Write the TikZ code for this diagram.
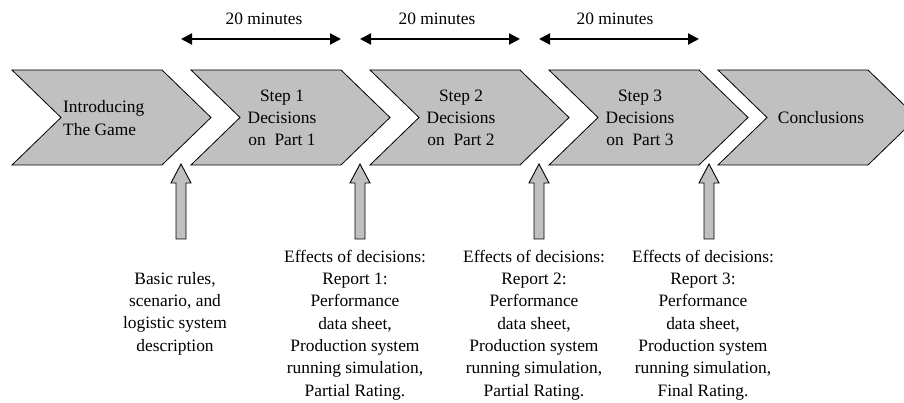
\documentclass[tikz,border=0pt]{standalone}
\usepackage{fontspec}
\setmainfont{Liberation Serif}
\usetikzlibrary{arrows.meta}
\definecolor{chevgray}{RGB}{192,192,192}

\begin{document}
\begin{tikzpicture}[x=1pt, y=-1pt,
    chevron/.style={draw=black, fill=chevgray, line width=0.8pt, line join=miter},
    chevtext/.style={font=\fontsize{17.4}{22.3}\selectfont, align=center, inner sep=0pt},
    note/.style={font=\fontsize{17.4}{22.3}\selectfont, align=center, inner sep=0pt},
    span/.style={line width=2pt, {Triangle[length=11pt,width=11pt]}-{Triangle[length=11pt,width=11pt]}}
]
\useasboundingbox (0,0) rectangle (904,403);
\clip (0,0) rectangle (904,403);

% Chevrons of the session
\foreach \x in {12,191,370,549,718} {
  \draw[chevron] (\x,70) -- ++(150,0) -- ++(49,47.5) -- ++(-49,47.5) -- ++(-150,0) -- ++(49,-47.5) -- cycle;
}

% Texts inside the chevrons
\node[chevtext, anchor=west, align=left] (intro) at (63,118) {Introducing\\The Game};
\node[chevtext] (step1) at (282,118) {Step 1\\Decisions\\on~~Part 1};
\node[chevtext] (step2) at (461,118) {Step 2\\Decisions\\on~~Part 2};
\node[chevtext] (step3) at (640,118) {Step 3\\Decisions\\on~~Part 3};
\node[chevtext] (concl) at (821,118) {Conclusions};

% Time spans
\coordinate (t1s) at (181,39); \coordinate (t1e) at (341,39);
\coordinate (t2s) at (360,39); \coordinate (t2e) at (520,39);
\coordinate (t3s) at (539,39); \coordinate (t3e) at (699,39);
\draw[span] (t1s) -- (t1e);
\draw[span] (t2s) -- (t2e);
\draw[span] (t3s) -- (t3e);
\node[note] (min1) at (264,19) {20 minutes};
\node[note] (min2) at (437,19) {20 minutes};
\node[note] (min3) at (615,19) {20 minutes};

% Block arrows pointing up to the chevrons
\foreach \x in {181,360,539,709} {
  \draw[chevron, line width=0.9pt] ({\x-5},239) -- ({\x-5},183) -- ({\x-10},183) -- (\x,164)
    -- ({\x+10},183) -- ({\x+5},183) -- ({\x+5},239) -- cycle;
}

% Notes below the arrows
\node[note] (rules) at (175,313.5) {Basic rules,\\scenario, and\\logistic system\\description};
\node[note] (eff1) at (355,325) {Effects of decisions:\\Report 1:\\Performance\\data sheet,\\Production system\\running simulation,\\Partial Rating.};
\node[note] (eff2) at (534,325) {Effects of decisions:\\Report 2:\\Performance\\data sheet,\\Production system\\running simulation,\\Partial Rating.};
\node[note] (eff3) at (703,325) {Effects of decisions:\\Report 3:\\Performance\\data sheet,\\Production system\\running simulation,\\Final Rating.};

\end{tikzpicture}
\end{document}
